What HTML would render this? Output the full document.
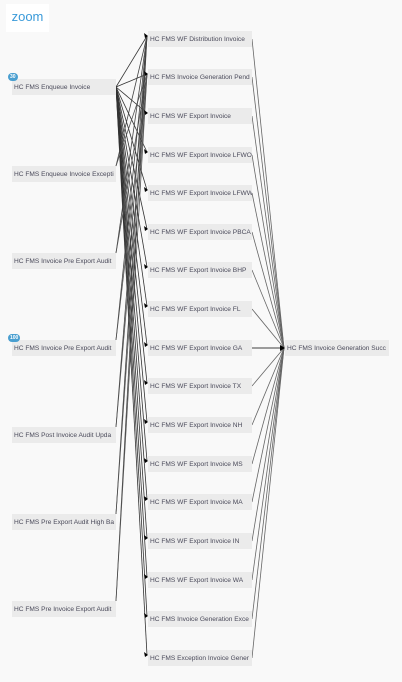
<!DOCTYPE html>
<html><head><style>
body{margin:0;width:402px;height:682px;background:#f9f9f9;position:relative;overflow:hidden;font-family:"Liberation Sans",sans-serif}
.z{position:absolute;left:6px;top:4px;width:43px;height:28px;background:#fff;color:#3a9ad9;font-size:13px;line-height:26px;text-align:center}
.n{position:absolute;height:16px;width:104px;background:#ebebeb;font-size:6.6px;color:#4a4a5a;line-height:17px;padding-left:2px;white-space:nowrap;overflow:hidden;box-sizing:border-box}
.b{position:absolute;background:#4a9fd0;color:#fff;font-size:5px;font-weight:bold;border-radius:5px;height:8px;line-height:8px;padding:0 2px}
svg{position:absolute;left:0;top:0}
</style></head><body>
<div class="z">zoom</div>
<svg width="402" height="682" id="s"></svg>
<div class="n" style="left:12px;top:79px">HC FMS Enqueue Invoice</div>
<div class="n" style="left:12px;top:166px">HC FMS Enqueue Invoice Excepti</div>
<div class="n" style="left:12px;top:253px">HC FMS Invoice Pre Export Audit</div>
<div class="n" style="left:12px;top:340px">HC FMS Invoice Pre Export Audit</div>
<div class="n" style="left:12px;top:427px">HC FMS Post Invoice Audit Upda</div>
<div class="n" style="left:12px;top:514px">HC FMS Pre Export Audit High Ba</div>
<div class="n" style="left:12px;top:601px">HC FMS Pre Invoice Export Audit</div>
<div class="b" style="left:8px;top:73px">30</div>
<div class="b" style="left:8px;top:334px">100</div>
<div id="mid"></div>
<div class="n" style="left:285px;top:340px">HC FMS Invoice Generation Succ</div>
<script>
var names=["HC FMS WF Distribution Invoice","HC FMS Invoice Generation Pend","HC FMS WF Export Invoice","HC FMS WF Export Invoice LFWO","HC FMS WF Export Invoice LFWW","HC FMS WF Export Invoice PBCA","HC FMS WF Export Invoice BHP","HC FMS WF Export Invoice FL","HC FMS WF Export Invoice GA","HC FMS WF Export Invoice TX","HC FMS WF Export Invoice NH","HC FMS WF Export Invoice MS","HC FMS WF Export Invoice MA","HC FMS WF Export Invoice IN","HC FMS WF Export Invoice WA","HC FMS Invoice Generation Exce","HC FMS Exception Invoice Gener"];
var ys=[39,77,116,155,193,232,270,309,348,386,425,464,502,541,580,619,658];
var h="";names.forEach(function(t,i){h+='<div class="n" style="left:148px;top:'+(ys[i]-8)+'px">'+t+'</div>'});
document.getElementById('mid').innerHTML=h;
var L=[87,174,261,348,435,522,609],s="";
function ln(x1,y1,x2,y2,c){s+='<line x1="'+x1+'" y1="'+y1+'" x2="'+x2+'" y2="'+y2+'" stroke="'+c+'" stroke-width="0.8"/>';}
ys.forEach(function(y){ln(116,87,147,y-3,"#333")});
L.slice(1).forEach(function(y,k){ln(116,y-8,147,36,"#444");ln(116,y-8,147,74,"#555")});
ys.forEach(function(y){ln(252,y,284,348,y==348?"#000":"#666")});
ys.forEach(function(y){s+='<polygon points="148,'+(y-3)+' 144,'+(y-6)+' 145,'+(y-1)+'" fill="#000"/>'});
s+='<polygon points="285,348 280,345 280,351" fill="#000"/>';
document.getElementById('s').innerHTML=s;
</script>
</body></html>
